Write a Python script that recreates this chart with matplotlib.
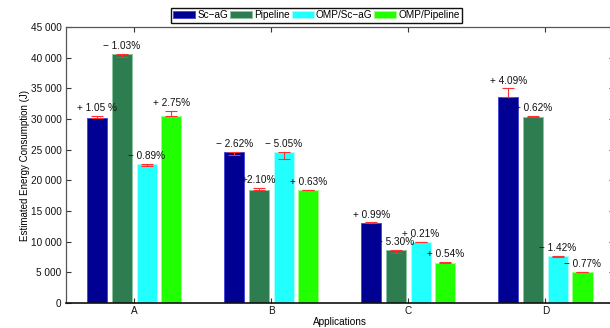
import matplotlib

matplotlib.use("Agg")
import matplotlib.pyplot as plt  # noqa: E402
import numpy as np  # noqa: E402
from matplotlib.ticker import FuncFormatter  # noqa: E402

plt.rcParams["font.family"] = ["Liberation Sans", "DejaVu Sans"]

apps = ["A", "B", "C", "D"]
series = ["Sc\u2212aG", "Pipeline", "OMP/Sc\u2212aG", "OMP/Pipeline"]

# Estimated energy (J) per application
sc_ag = [30150, 24700, 13000, 33600]
pipeline = [40600, 18400, 8600, 30300]
omp_sc_ag = [22600, 24700, 9900, 7650]
omp_pipeline = [30450, 18350, 6600, 5100]

# Deviation labels; the error bar runs from the bar top by that percentage
sc_ag_dev = ["+ 1.05 %", "\u2212 2.62%", "+ 0.99%", "+ 4.09%"]
pipeline_dev = ["\u2212 1.03%", "+2.10%", "\u2212 5.30%", "+ 0.62%"]
omp_sc_ag_dev = ["\u2212 0.89%", "\u2212 5.05%", "+ 0.21%", "\u2212 1.42%"]
omp_pipeline_dev = ["+ 2.75%", "+ 0.63%", "+ 0.54%", "\u2212 0.77%"]

values = [sc_ag, pipeline, omp_sc_ag, omp_pipeline]
devs = [sc_ag_dev, pipeline_dev, omp_sc_ag_dev, omp_pipeline_dev]
colors = ["#000092", "#2E7D50", "#22FFFF", "#22FF00"]
edges = ["#4A4AD8", "#8CC4A0", "#A8FFFF", "#9CFF80"]


def pct(label):
    return float(label.replace(" ", "").replace("%", "").replace("\u2212", "-")) / 100.0


fig = plt.figure(figsize=(6.10, 3.28), dpi=100)
ax = fig.add_axes([0.1077, 0.0762, 0.8989, 0.8415])

x = np.arange(1, len(apps) + 1)
width = 0.146
offsets = [-0.27, -0.09, 0.09, 0.27]

handles = []
for vals, labs, off, col, edge, name in zip(values, devs, offsets, colors, edges, series):
    vals = np.asarray(vals, dtype=float)
    d = np.array([pct(s) for s in labs]) * vals
    lo = np.where(d < 0, -d, 0)
    hi = np.where(d > 0, d, 0)
    h = ax.bar(x + off, vals, width, color=col, edgecolor=edge, linewidth=0.7,
               label=name, zorder=2)
    handles.append(h)
    ax.errorbar(x + off, vals, yerr=[lo, hi], fmt="none", ecolor="#FF3030",
                elinewidth=0.8, capsize=4, capthick=0.8, zorder=3)
    for xi, v, up, s in zip(x + off, vals, hi, labs):
        ax.text(xi, v + up + 1300, s, ha="center", va="center", fontsize=7.2,
                color="#111111", zorder=4)

ax.set_xlim(0.5, 4.5)
ax.set_ylim(0, 45000)
ax.set_xticks(x)
ax.set_xticklabels(apps)
ax.set_yticks(np.arange(0, 45001, 5000))
ax.yaxis.set_major_formatter(FuncFormatter(lambda v, _: f"{v:,.0f}".replace(",", " ")))
ax.tick_params(direction="in", length=3.5, width=0.8, labelsize=7.2, top=True, right=True,
               colors="#333333", labelcolor="#111111")
ax.tick_params(axis="x", pad=2)
ax.tick_params(axis="y", pad=3)

for side in ["top", "left", "right"]:
    ax.spines[side].set_color("#555555")
    ax.spines[side].set_linewidth(0.9)
ax.spines["bottom"].set_color("#111111")
ax.spines["bottom"].set_linewidth(1.2)

ax.set_xlabel("Applications", fontsize=7.2, labelpad=1)
ax.set_ylabel("Estimated Energy Consumption (J)", fontsize=7, labelpad=0.5)

fig.legend(handles=handles, labels=series, loc="center", ncol=4,
           bbox_to_anchor=(0.519, 0.954), fontsize=7.2, frameon=True, fancybox=False,
           edgecolor="#111111", framealpha=1, handlelength=2.2, handleheight=0.8,
           handletextpad=0.2, columnspacing=0.2, borderpad=0.25, borderaxespad=0)

fig.savefig("out.png", dpi=100)
